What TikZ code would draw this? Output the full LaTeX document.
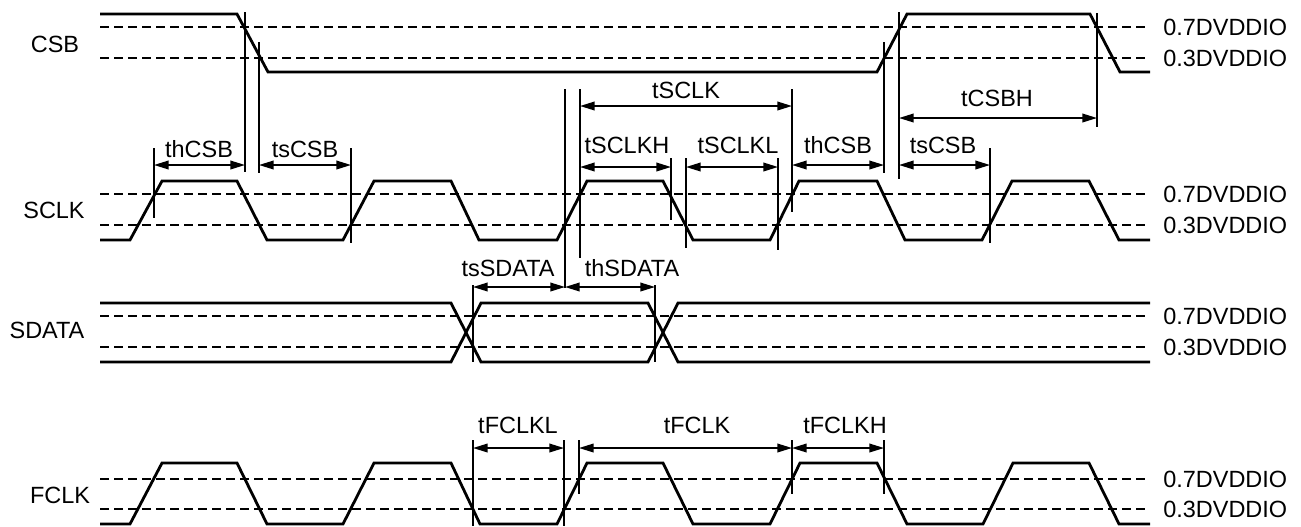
\documentclass[tikz,border=0pt]{standalone}
\usepackage{fontspec}
\setmainfont{Liberation Sans}
\usetikzlibrary{arrows.meta}
\begin{document}
\begin{tikzpicture}[x=0.75pt,y=-0.75pt,
  wave/.style={line width=2.1pt},
  threshold/.style={line width=1.4pt,dash pattern=on 6.75pt off 3.75pt},
  guide/.style={line width=1.2pt},
  timing/.style={line width=1.2pt,{Triangle[length=11pt,width=6.5pt]}-{Triangle[length=11pt,width=6.5pt]}},
  lbl/.style={inner sep=0pt,font=\fontsize{17.6}{20}\selectfont}]
\useasboundingbox (0,0) rectangle (1301,526);
\foreach \y in {27,58,194,225,316,347,479,509}
  \draw[threshold] (100,\y) -- (1145,\y);
\draw[wave] (100,14) -- (237,14) -- (268,72) -- (877,72) -- (907,14) -- (1090,14) -- (1120,72) -- (1150,72);
\draw[wave] (100,240) -- (130,240) -- (162,181) -- (237,181) -- (267,240) -- (343,240) -- (374,181) -- (451,181) -- (479,240) -- (557,240) -- (587,181) -- (663,181) -- (693,240) -- (770,240) -- (799,181) -- (877,181) -- (905,240) -- (982,240) -- (1012,181) -- (1089,181) -- (1119,240) -- (1150,240);
\draw[wave] (100,303) -- (451,303) -- (481,362) -- (648,362) -- (678,303) -- (1150,303);
\draw[wave] (100,362) -- (451,362) -- (481,303) -- (648,303) -- (678,362) -- (1150,362);
\draw[wave] (100,524) -- (130,524) -- (162,463) -- (237,463) -- (267,524) -- (343,524) -- (374,463) -- (451,463) -- (480,524) -- (557,524) -- (587,463) -- (663,463) -- (693,524) -- (770,524) -- (800,463) -- (877,463) -- (907,524) -- (983,524) -- (1013,463) -- (1089,463) -- (1119,524) -- (1150,524);
\draw[guide] (245,12) -- (245,172) (259,42) -- (259,173) (154,148) -- (154,218) (351,148) -- (351,243);
\draw[guide] (565,89) -- (565,288) (580,89) -- (580,258) (792,89) -- (792,212) (671,158) -- (671,220) (686,158) -- (686,248) (778,158) -- (778,250);
\draw[guide] (884,42) -- (884,173) (899,12) -- (899,179) (990,148) -- (990,243) (1097,13) -- (1097,127);
\draw[guide] (473,285) -- (473,362) (655,285) -- (655,362);
\draw[guide] (473,440) -- (473,526) (564,440) -- (564,526) (579,440) -- (579,494) (792,440) -- (792,494) (884,440) -- (884,494);
\draw[timing] (154,165) -- (245,165);
\draw[timing] (259,165) -- (351,165);
\draw[timing] (580,106) -- (792,106);
\draw[timing] (580,167) -- (671,167);
\draw[timing] (686,167) -- (778,167);
\draw[timing] (792,165) -- (884,165);
\draw[timing] (899,165) -- (990,165);
\draw[timing] (899,118) -- (1097,118);
\draw[timing] (473,287) -- (565,287);
\draw[timing] (565,287) -- (655,287);
\draw[timing] (473,448) -- (564,448);
\draw[timing] (579,448) -- (792,448);
\draw[timing] (792,448) -- (884,448);
\node[lbl] (csb) at (55,44) {CSB};
\node[lbl] (sclk) at (54,210) {SCLK};
\node[lbl] (sdata) at (47,330) {SDATA};
\node[lbl] (fclk) at (60,495) {FCLK};
\foreach \y/\v [count=\i] in {27/0.7,58/0.3,194/0.7,225/0.3,316/0.7,347/0.3,479/0.7,509/0.3}
  \node[lbl,anchor=west] (vref\i) at (1163,\y) {\v DVDDIO};
\node[lbl] (thcsba) at (199,149) {thCSB};
\node[lbl] (tscsba) at (305,149) {tsCSB};
\node[lbl] (tsclk) at (686,90) {tSCLK};
\node[lbl] (tsclkh) at (627,145) {tSCLKH};
\node[lbl] (tsclkl) at (738,145) {tSCLKL};
\node[lbl] (thcsbb) at (838,145) {thCSB};
\node[lbl] (tscsbb) at (943,145) {tsCSB};
\node[lbl] (tcsbh) at (997,98) {tCSBH};
\node[lbl] (tssdata) at (508,268) {tsSDATA};
\node[lbl] (thsdata) at (632,268) {thSDATA};
\node[lbl] (tfclkl) at (518,425) {tFCLKL};
\node[lbl] (tfclk) at (697,425) {tFCLK};
\node[lbl] (tfclkh) at (845,425) {tFCLKH};
\end{tikzpicture}
\end{document}
